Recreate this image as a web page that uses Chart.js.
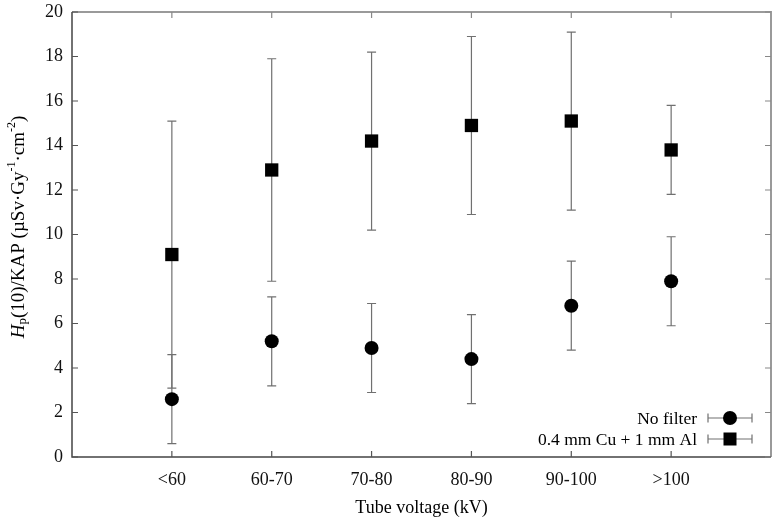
<!DOCTYPE html>
<html>
<head>
<meta charset="utf-8">
<script src="https://cdn.jsdelivr.net/npm/chart.js@4"></script>
<style>
html,body{margin:0;padding:0;background:#fff;}
#wrap{width:773px;height:523px;}
</style>
</head>
<body>
<div id="wrap"><canvas id="c" width="773" height="523"></canvas></div>
<script>
const categories = ['<60', '60-70', '70-80', '80-90', '90-100', '>100'];
const seriesNames = ['No filter', '0.4 mm Cu + 1 mm Al'];
const noFilter = [2.6, 5.2, 4.9, 4.4, 6.8, 7.9];
const noFilterErr = [2.0, 2.0, 2.0, 2.0, 2.0, 2.0];
const filtered = [9.1, 12.9, 14.2, 14.9, 15.1, 13.8];
const filteredErr = [6.0, 5.0, 4.0, 4.0, 4.0, 2.0];
const yTicks = [0, 2, 4, 6, 8, 10, 12, 14, 16, 18, 20];
const xTitle = 'Tube voltage (kV)';

const FONT = '"Liberation Serif", "DejaVu Serif", serif';
const FRAME_DARK = '#444444';
const FRAME_LIGHT = '#9a9a9a';
const ERR = '#707070';

function pts(vals, errs) {
  return vals.map((v, i) => ({x: i, y: v, err: errs[i]}));
}

const errorBars = {
  id: 'errorBars',
  beforeDatasetsDraw(chart) {
    const ctx = chart.ctx, xs = chart.scales.x, ys = chart.scales.y;
    ctx.save();
    ctx.strokeStyle = ERR;
    ctx.lineWidth = 1.2;
    chart.data.datasets.forEach(ds => {
      ds.data.forEach(p => {
        const px = xs.getPixelForValue(p.x);
        const lo = ys.getPixelForValue(p.y - p.err);
        const hi = ys.getPixelForValue(p.y + p.err);
        ctx.beginPath();
        ctx.moveTo(px, lo); ctx.lineTo(px, hi);
        ctx.moveTo(px - 4.5, lo); ctx.lineTo(px + 4.5, lo);
        ctx.moveTo(px - 4.5, hi); ctx.lineTo(px + 4.5, hi);
        ctx.stroke();
      });
    });
    ctx.restore();
  }
};

const frame = {
  id: 'frame',
  afterDraw(chart) {
    const ctx = chart.ctx, a = chart.chartArea, xs = chart.scales.x, ys = chart.scales.y;
    ctx.save();
    // top & right (lighter)
    ctx.strokeStyle = FRAME_LIGHT;
    ctx.lineWidth = 2;
    ctx.beginPath();
    ctx.moveTo(a.left, a.top); ctx.lineTo(a.right, a.top); ctx.lineTo(a.right, a.bottom);
    ctx.stroke();
    // left & bottom (darker)
    ctx.strokeStyle = FRAME_DARK;
    ctx.lineWidth = 1.5;
    ctx.beginPath();
    ctx.moveTo(a.left, a.top); ctx.lineTo(a.left, a.bottom); ctx.lineTo(a.right, a.bottom);
    ctx.stroke();

    const tl = 6;
    ctx.lineWidth = 1.2;
    ctx.strokeStyle = '#555';
    ctx.beginPath();
    ys.ticks.forEach(t => {
      const py = ys.getPixelForValue(t.value);
      ctx.moveTo(a.left, py); ctx.lineTo(a.left + tl, py);
    });
    xs.ticks.forEach(t => {
      const px = xs.getPixelForValue(t.value);
      ctx.moveTo(px, a.bottom); ctx.lineTo(px, a.bottom - tl);
    });
    ctx.stroke();
    ctx.strokeStyle = '#888';
    ctx.beginPath();
    ys.ticks.forEach(t => {
      const py = ys.getPixelForValue(t.value);
      ctx.moveTo(a.right, py); ctx.lineTo(a.right - tl, py);
    });
    xs.ticks.forEach(t => {
      const px = xs.getPixelForValue(t.value);
      ctx.moveTo(px, a.top); ctx.lineTo(px, a.top + tl);
    });
    ctx.stroke();

    // legend
    const rows = [
      {name: seriesNames[0], style: 'circle', y: 418},
      {name: seriesNames[1], style: 'rect', y: 439}
    ];
    ctx.font = '17.5px ' + FONT;
    ctx.textAlign = 'right';
    ctx.textBaseline = 'middle';
    rows.forEach(r => {
      ctx.fillStyle = '#000';
      ctx.fillText(r.name, 697, r.y + 1);
      ctx.strokeStyle = ERR;
      ctx.lineWidth = 1.2;
      ctx.beginPath();
      ctx.moveTo(708, r.y); ctx.lineTo(752, r.y);
      ctx.moveTo(708, r.y - 4.5); ctx.lineTo(708, r.y + 4.5);
      ctx.moveTo(752, r.y - 4.5); ctx.lineTo(752, r.y + 4.5);
      ctx.stroke();
      ctx.fillStyle = '#000';
      if (r.style === 'circle') {
        ctx.beginPath(); ctx.arc(730, r.y, 7, 0, Math.PI * 2); ctx.fill();
      } else {
        ctx.fillRect(730 - 6.5, r.y - 6.5, 13, 13);
      }
    });

    // x title
    ctx.textAlign = 'center';
    ctx.textBaseline = 'middle';
    ctx.font = '18px ' + FONT;
    ctx.fillStyle = '#000';
    ctx.fillText(xTitle, (a.left + a.right) / 2, 508);

    // y title with rich text
    const segs = [
      {t: 'H', f: 'italic 19px ' + FONT, dy: 0},
      {t: 'p', f: '13px ' + FONT, dy: 4},
      {t: '(10)/KAP (\u00b5Sv\u00b7Gy', f: '19px ' + FONT, dy: 0},
      {t: '-1', f: '12px ' + FONT, dy: -7},
      {t: '\u00b7cm', f: '19px ' + FONT, dy: 0},
      {t: '-2', f: '12px ' + FONT, dy: -7},
      {t: ')', f: '19px ' + FONT, dy: 0}
    ];
    let total = 0;
    segs.forEach(s => { ctx.font = s.f; s.w = ctx.measureText(s.t).width; total += s.w; });
    ctx.translate(19, 227);
    ctx.rotate(-Math.PI / 2);
    ctx.textAlign = 'left';
    ctx.textBaseline = 'middle';
    let x = -total / 2;
    segs.forEach(s => {
      ctx.font = s.f;
      ctx.fillText(s.t, x, s.dy);
      x += s.w;
    });
    ctx.restore();
  }
};

new Chart(document.getElementById('c'), {
  type: 'scatter',
  data: {
    datasets: [
      {
        label: seriesNames[0],
        data: pts(noFilter, noFilterErr),
        pointStyle: 'circle',
        radius: 7,
        hoverRadius: 7,
        backgroundColor: '#000',
        borderColor: '#000',
        borderWidth: 0
      },
      {
        label: seriesNames[1],
        data: pts(filtered, filteredErr),
        pointStyle: 'rect',
        radius: 9.4,
        hoverRadius: 9.4,
        backgroundColor: '#000',
        borderColor: '#000',
        borderWidth: 0
      }
    ]
  },
  options: {
    responsive: false,
    animation: false,
    events: [],
    layout: {autoPadding: false, padding: {top: 12, right: 2, left: 0, bottom: 0}},
    plugins: {legend: {display: false}, tooltip: {enabled: false}},
    scales: {
      x: {
        type: 'linear',
        min: -1,
        max: 6,
        afterBuildTicks(s) { s.ticks = categories.map((c, i) => ({value: i})); },
        afterFit(s) { s.height = 66; s.paddingLeft = 0; s.paddingRight = 0; },
        grid: {display: false},
        border: {display: false},
        ticks: {
          autoSkip: false,
          maxRotation: 0,
          padding: 4,
          color: '#111',
          font: {family: FONT, size: 18},
          callback: (v) => categories[v]
        }
      },
      y: {
        min: 0,
        max: 20,
        afterBuildTicks(s) { s.ticks = yTicks.map(v => ({value: v})); },
        afterFit(s) { s.width = 72; s.paddingTop = 0; s.paddingBottom = 0; },
        grid: {display: false},
        border: {display: false},
        ticks: {
          padding: 1,
          color: '#111',
          font: {family: FONT, size: 18}
        }
      }
    }
  },
  plugins: [errorBars, frame]
});
</script>
</body>
</html>
